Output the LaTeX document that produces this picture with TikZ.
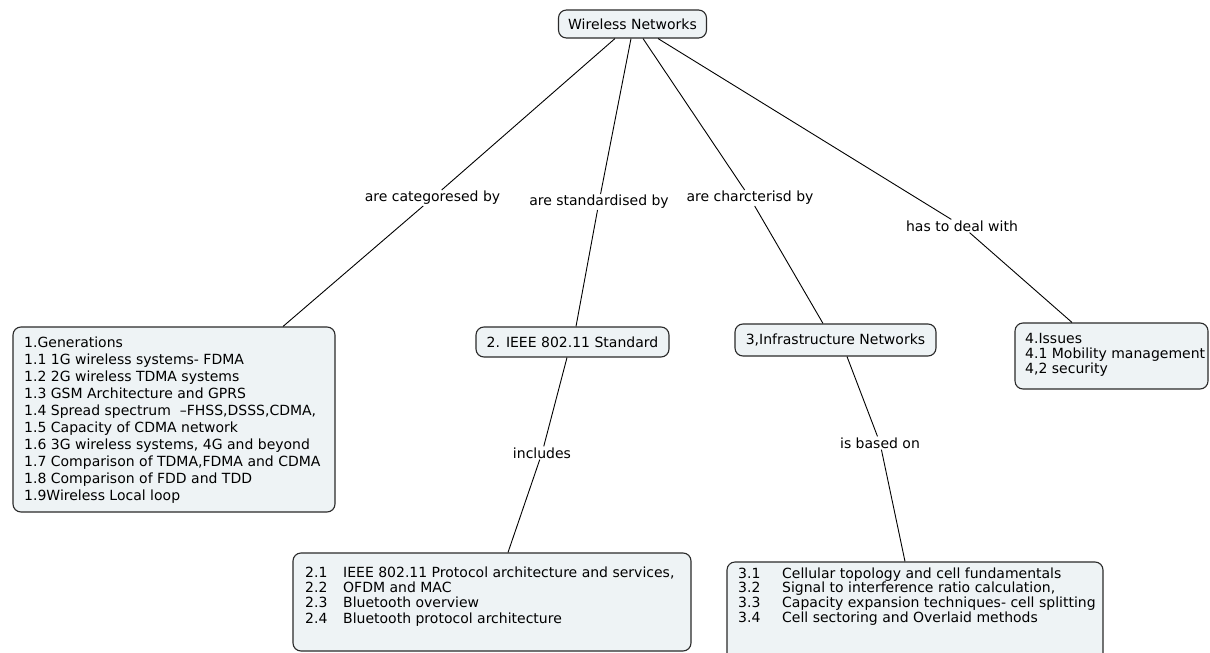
\documentclass[tikz,border=0pt]{standalone}
\usepackage{fontspec}
\setmainfont{DejaVu Sans}
\definecolor{boxfill}{HTML}{EEF3F5}
\definecolor{boxline}{HTML}{2A2A2A}
\newcommand\fsA{\fontsize{14}{17}\selectfont}
\begin{document}
\begin{tikzpicture}[x=1pt,y=-1pt,
  box/.style={draw=boxline, fill=boxfill, rounded corners=8pt, line width=1.1pt, inner sep=0pt},
  lbl/.style={inner sep=1pt, font=\fsA},
  txt/.style={anchor=north west, inner sep=0pt, align=left},
  conn/.style={draw=black, line width=0.9pt}]
\useasboundingbox (0,0) rectangle (1210,653);
\clip (0,0) rectangle (1210,653);

% concepts
\node[box, minimum width=148pt, minimum height=28pt, font=\fsA] (wn) at (632.5,24) {Wireless Networks};
\node[box, minimum width=322pt, minimum height=185pt] (g1) at (174,419.5) {};
\node[box, minimum width=193pt, minimum height=30pt, font=\fsA] (g2) at (572.5,342) {2. IEEE 802.11 Standard};
\node[box, minimum width=201pt, minimum height=32pt, font=\fsA] (g3) at (835.5,340) {3,Infrastructure Networks};
\node[box, minimum width=193pt, minimum height=66pt] (g4) at (1111.5,356) {};
\node[box, minimum width=398pt, minimum height=98pt] (g2x) at (492,602) {};
\node[box, minimum width=376pt, minimum height=110pt] (g3x) at (915,617) {};

% box texts
\node[txt, font={\fontsize{14}{17}\selectfont}] (t1) at (24,336) {\rule{0pt}{11pt}1.Generations\\
1.1 1G wireless systems- FDMA\\
1.2 2G wireless TDMA systems\\
1.3 GSM Architecture and GPRS\\
1.4 Spread spectrum\ \ --FHSS,DSSS,CDMA,\\
1.5 Capacity of CDMA network\\
1.6 3G wireless systems, 4G and beyond\\
1.7 Comparison of TDMA,FDMA and CDMA\\
1.8 Comparison of FDD and TDD\\
1.9Wireless Local loop};
\node[txt, font={\fontsize{14}{15.3}\selectfont}] (t2) at (305,566) {\rule{0pt}{11pt}\makebox[38pt][l]{2.1}IEEE 802.11 Protocol architecture and services,\\
\makebox[38pt][l]{2.2}OFDM and MAC\\
\makebox[38pt][l]{2.3}Bluetooth overview\\
\makebox[38pt][l]{2.4}Bluetooth protocol architecture};
\node[txt, font={\fontsize{14}{14.7}\selectfont}] (t3) at (738,567) {\rule{0pt}{11pt}\makebox[44pt][l]{3.1}Cellular topology and cell fundamentals\\
\makebox[44pt][l]{3.2}Signal to interference ratio calculation,\\
\makebox[44pt][l]{3.3}Capacity expansion techniques- cell splitting\\
\makebox[44pt][l]{3.4}Cell sectoring and Overlaid methods};
\node[txt, font={\fontsize{14}{15}\selectfont}] (t4) at (1025,332) {\rule{0pt}{11pt}4.Issues\\
4.1 Mobility management\\
4,2 security};

% linking phrases
\node[lbl] (l1) at (432.5,198) {are categoresed by};
\node[lbl] (l2) at (599,202) {are standardised by};
\node[lbl] (l3) at (750,198) {are charcterisd by};
\node[lbl] (l4) at (962,226) {has to deal with};
\node[lbl] (l5) at (542,453) {includes};
\node[lbl] (l6) at (880,443) {is based on};

% connectors
\draw[conn] ([xshift=-17.5pt]wn.south) -- (l1);
\draw[conn] (l1) -- ([xshift=109pt]g1.north);
\draw[conn] ([xshift=-1.5pt]wn.south) -- (l2);
\draw[conn] (l2) -- ([xshift=3.5pt]g2.north);
\draw[conn] ([xshift=10.5pt]wn.south) -- (l3);
\draw[conn] (l3) -- ([xshift=-12.5pt]g3.north);
\draw[conn] ([xshift=25.5pt]wn.south) -- (l4);
\draw[conn] (l4) -- ([xshift=-39.5pt]g4.north);
\draw[conn] ([xshift=-5.5pt]g2.south) -- (l5);
\draw[conn] (l5) -- ([xshift=16pt]g2x.north);
\draw[conn] ([xshift=11.5pt]g3.south) -- (l6);
\draw[conn] (l6) -- ([xshift=-10pt]g3x.north);
\end{tikzpicture}
\end{document}
